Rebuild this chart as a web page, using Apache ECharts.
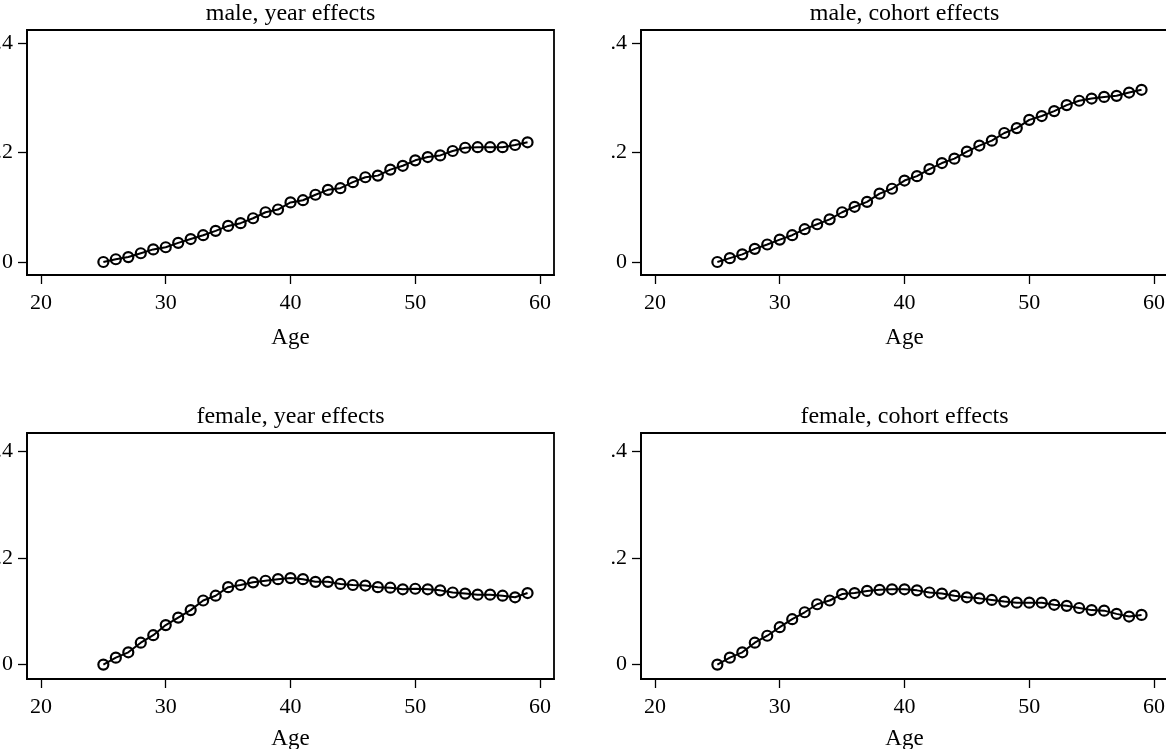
<!DOCTYPE html>
<html>
<head>
<meta charset="utf-8">
<script src="https://cdn.jsdelivr.net/npm/echarts@6/dist/echarts.min.js"></script>
<style>
  html, body { margin: 0; padding: 0; background: #fff; }
  #main { width: 1166px; height: 749px; }
</style>
</head>
<body>
<div id="main"></div>
<script>
(function () {
  const ages = [25, 26, 27, 28, 29, 30, 31, 32, 33, 34, 35, 36, 37, 38, 39, 40, 41, 42,
    43, 44, 45, 46, 47, 48, 49, 50, 51, 52, 53, 54, 55, 56, 57, 58, 59];

  const maleYear = [0, 0.005, 0.009, 0.016, 0.023, 0.027, 0.035, 0.042, 0.049, 0.057,
    0.066, 0.071, 0.080, 0.091, 0.096, 0.109, 0.113, 0.123, 0.132, 0.135,
    0.146, 0.155, 0.158, 0.169, 0.176, 0.186, 0.192, 0.195, 0.203, 0.209,
    0.210, 0.210, 0.210, 0.214, 0.219];

  const maleCohort = [0, 0.007, 0.014, 0.024, 0.032, 0.041, 0.049, 0.060, 0.069, 0.078,
    0.091, 0.101, 0.110, 0.125, 0.134, 0.149, 0.157, 0.170, 0.181, 0.189,
    0.202, 0.213, 0.222, 0.236, 0.245, 0.260, 0.267, 0.276, 0.287, 0.295,
    0.299, 0.302, 0.304, 0.310, 0.315];

  const femaleYear = [0, 0.013, 0.023, 0.041, 0.055, 0.074, 0.088, 0.102, 0.120, 0.129,
    0.145, 0.149, 0.154, 0.157, 0.160, 0.162, 0.160, 0.155, 0.155, 0.151,
    0.149, 0.148, 0.145, 0.144, 0.141, 0.142, 0.141, 0.139, 0.135, 0.133,
    0.131, 0.131, 0.129, 0.126, 0.134];

  const femaleCohort = [0, 0.013, 0.023, 0.041, 0.054, 0.070, 0.085, 0.098, 0.113, 0.120,
    0.132, 0.134, 0.138, 0.140, 0.141, 0.141, 0.139, 0.135, 0.133, 0.129,
    0.126, 0.124, 0.121, 0.118, 0.116, 0.116, 0.116, 0.112, 0.110, 0.106,
    0.102, 0.101, 0.095, 0.090, 0.093];

  const panelTitles = ['male, year effects', 'male, cohort effects', 'female, year effects', 'female, cohort effects'];
  const xTicks = [20, 30, 40, 50, 60];
  const yTicks = [0, 0.2, 0.4];

  const font = 'Liberation Serif';
  const tickSize = 22;
  const nameSize = 23;
  const titleSize = 24;

  // layout of the four panels (px)
  const panels = [
    { left: 27, top: 30, height: 245, ymin: -0.0238, ymax: 0.4244, nameGap: 51, data: maleYear },
    { left: 641, top: 30, height: 245, ymin: -0.0238, ymax: 0.4244, nameGap: 51, data: maleCohort },
    { left: 27, top: 433, height: 246, ymin: -0.027, ymax: 0.4337, nameGap: 48, data: femaleYear },
    { left: 641, top: 433, height: 246, ymin: -0.027, ymax: 0.4337, nameGap: 48, data: femaleCohort }
  ];
  const panelWidth = 527;

  const grid = [];
  const xAxis = [];
  const yAxis = [];
  const series = [];
  const graphic = [];

  panels.forEach((p, i) => {
    grid.push({
      left: p.left,
      top: p.top,
      width: panelWidth,
      height: p.height,
      outerBoundsMode: 'none',
      containLabel: false,
      show: true,
      borderColor: '#000',
      borderWidth: 1.8,
      backgroundColor: 'transparent'
    });

    xAxis.push({
      type: 'value',
      gridIndex: i,
      min: 18.88,
      max: 61.12,
      name: 'Age',
      nameLocation: 'middle',
      nameGap: p.nameGap,
      nameTextStyle: { color: '#000', fontFamily: font, fontSize: nameSize },
      axisLine: { show: true, onZero: false, lineStyle: { color: '#000', width: 1.8 } },
      axisTick: { show: true, length: 9, customValues: xTicks, lineStyle: { color: '#000', width: 1.3 } },
      axisLabel: { customValues: xTicks, margin: 17, color: '#000', fontFamily: font, fontSize: tickSize },
      splitLine: { show: false }
    });

    yAxis.push({
      type: 'value',
      gridIndex: i,
      min: p.ymin,
      max: p.ymax,
      axisLine: { show: true, onZero: false, lineStyle: { color: '#000', width: 1.8 } },
      axisTick: { show: true, length: 9, customValues: yTicks, lineStyle: { color: '#000', width: 1.3 } },
      axisLabel: {
        customValues: yTicks,
        margin: 14,
        color: '#000',
        fontFamily: font,
        fontSize: tickSize,
        formatter: function (v) {
          return v === 0 ? '0' : String(+v.toFixed(1)).replace(/^0/, '');
        }
      },
      splitLine: { show: false }
    });

    series.push({
      type: 'line',
      xAxisIndex: i,
      yAxisIndex: i,
      data: ages.map((a, k) => [a, p.data[k]]),
      symbol: 'circle',
      symbolSize: 10,
      showAllSymbol: true,
      lineStyle: { color: '#000', width: 2 },
      itemStyle: { color: 'transparent', borderColor: '#000', borderWidth: 2.2 },
      emphasis: { disabled: true },
      animation: false,
      z: 3
    });

    graphic.push({
      type: 'text',
      x: p.left + panelWidth / 2,
      y: p.top - 16,
      style: {
        text: panelTitles[i],
        fill: '#000',
        font: titleSize + 'px "' + font + '"',
        textAlign: 'center',
        textVerticalAlign: 'middle'
      }
    });
  });

  const chart = echarts.init(document.getElementById('main'), null, { renderer: 'canvas' });
  chart.setOption({
    backgroundColor: '#fff',
    animation: false,
    grid: grid,
    xAxis: xAxis,
    yAxis: yAxis,
    series: series,
    graphic: graphic
  });
})();
</script>
</body>
</html>
